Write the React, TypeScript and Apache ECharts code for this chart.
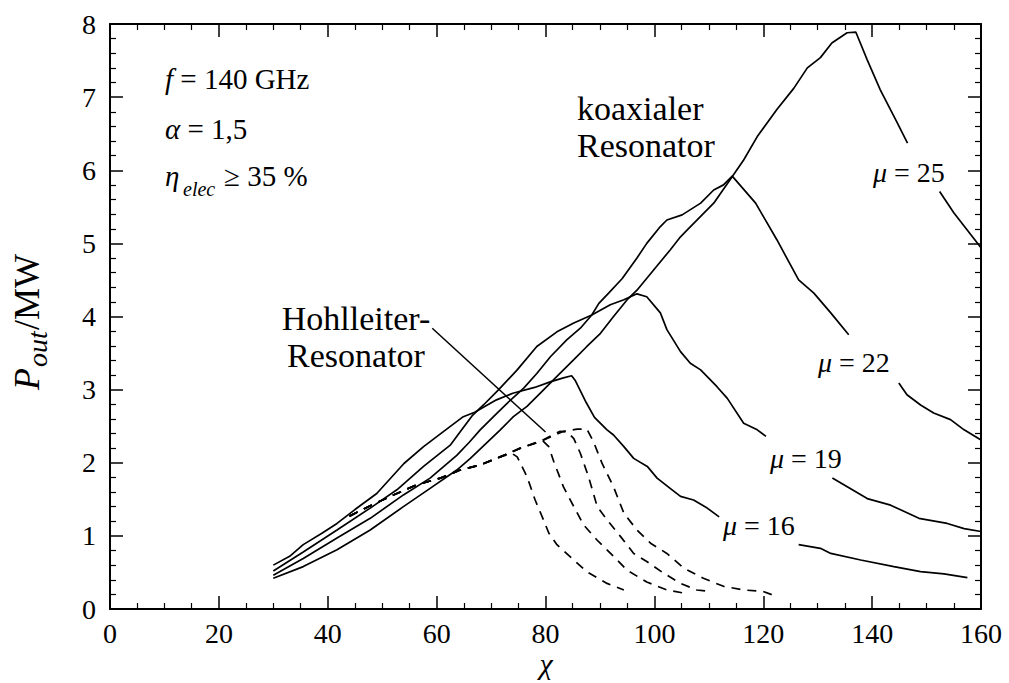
import React, { useEffect, useRef } from "react";
import * as echarts from "echarts";

// ---- Data (chi = χ, p = P_out in MW); null marks a gap left for a label ----
const chi16 = [30, 33, 35.5, 39, 41.7, 45, 49, 54, 57.6, 61.3, 64.9, 67, 71, 74, 78, 81, 83.3, 84.8, 85.5, 87.5, 89, 91.3, 92.5, 94.4, 96.2, 98.7, 100.5, 102.9, 104.8, 107.2, 109.7, 111.9, 119, 126.5, 130.5, 132.4, 137.9, 144, 148.9, 153.2, 157.5];
const p16 = [0.6, 0.72, 0.88, 1.04, 1.17, 1.36, 1.58, 1.99, 2.22, 2.43, 2.63, 2.69, 2.86, 2.95, 3.03, 3.11, 3.16, 3.19, 3.12, 2.82, 2.62, 2.45, 2.38, 2.22, 2.06, 1.95, 1.79, 1.65, 1.54, 1.49, 1.38, 1.26, null, 0.88, 0.83, 0.76, 0.67, 0.58, 0.51, 0.48, 0.43];

const chi19 = [30, 35.5, 41.7, 47.8, 52.7, 57.6, 62.5, 64.3, 66.5, 68.6, 71.4, 74.8, 78.4, 82.1, 85.2, 88.5, 91.9, 94.4, 96.8, 98.6, 101.1, 102.3, 104.8, 106.6, 108.5, 111.5, 113.4, 116.4, 118.9, 120.5, 126, 132.7, 139.1, 143.4, 148.6, 153.8, 156.9, 160];
const p19 = [0.52, 0.78, 1.08, 1.38, 1.63, 1.95, 2.24, 2.42, 2.64, 2.79, 3.0, 3.27, 3.59, 3.79, 3.91, 4.02, 4.16, 4.23, 4.31, 4.27, 4.05, 3.82, 3.52, 3.36, 3.27, 3.04, 2.88, 2.54, 2.45, 2.36, null, 1.79, 1.51, 1.42, 1.24, 1.17, 1.1, 1.06];

const chi22 = [30, 35.5, 41.7, 47.8, 53.9, 58.8, 63.7, 66, 68, 71.1, 72.9, 76, 78.4, 80.9, 83.9, 86.4, 88.5, 89.8, 91.6, 94.1, 96.8, 98.6, 101.1, 102.3, 105.1, 108.5, 110.9, 112.7, 114.3, 118.6, 122.5, 126.5, 129.3, 132.4, 135.7, 140, 144.9, 146.4, 148.9, 151.3, 154.4, 156.9, 160];
const p22 = [0.46, 0.69, 0.97, 1.24, 1.56, 1.79, 2.1, 2.28, 2.45, 2.68, 2.81, 3.02, 3.22, 3.45, 3.68, 3.84, 4.02, 4.18, 4.32, 4.52, 4.8, 5.0, 5.23, 5.32, 5.39, 5.55, 5.73, 5.8, 5.92, 5.55, 5.05, 4.5, 4.32, 4.05, 3.75, null, 3.09, 2.93, 2.79, 2.68, 2.59, 2.45, 2.31];

const chi25 = [30, 35.5, 41.7, 47.8, 53.9, 58.8, 63.7, 66.2, 71.7, 74.1, 76.6, 79, 82.1, 85.2, 87.6, 90.1, 92.5, 95, 96.8, 99.9, 102.9, 104.8, 106, 110.9, 114, 116.4, 118.9, 122.5, 125.6, 128.1, 130.5, 132.6, 135.4, 137, 139.1, 141.5, 144.6, 146.5, 149, 152.4, 155, 157.5, 160];
const p25 = [0.42, 0.58, 0.81, 1.08, 1.4, 1.65, 1.9, 2.06, 2.45, 2.63, 2.77, 2.95, 3.18, 3.41, 3.59, 3.77, 4.0, 4.23, 4.36, 4.64, 4.91, 5.09, 5.18, 5.55, 5.88, 6.14, 6.46, 6.83, 7.12, 7.4, 7.54, 7.74, 7.88, 7.89, 7.51, 7.1, 6.65, 6.37, null, 5.71, 5.42, 5.18, 4.94];

// Hohlleiter-Resonator (dashed)
const chiH1 = [44, 48, 52.7, 56.4, 60.7, 64.3, 68, 71.7, 73.8, 74.8, 76.6, 78.1, 79.4, 80.6, 82.1, 84.9, 87.6, 91.3, 94.4];
const pH1 = [1.27, 1.42, 1.58, 1.7, 1.79, 1.9, 1.97, 2.08, 2.13, 2.08, 1.81, 1.49, 1.26, 1.04, 0.88, 0.69, 0.51, 0.35, 0.26];
const chiH2 = [44, 48, 52.7, 56.4, 60.7, 64.3, 68, 71.7, 75.4, 78, 79.5, 80.6, 81.5, 83.3, 85.2, 87, 89.5, 92.5, 95, 98.6, 102.3, 106];
const pH2 = [1.27, 1.42, 1.58, 1.7, 1.79, 1.9, 1.97, 2.08, 2.2, 2.27, 2.3, 2.22, 2.02, 1.67, 1.4, 1.15, 0.94, 0.72, 0.53, 0.37, 0.26, 0.21];
const chiH3 = [44, 48, 52.7, 56.4, 60.7, 64.3, 68, 71.7, 75.4, 79, 81, 82.7, 84, 85.2, 86.4, 87.9, 89.5, 91.3, 93.8, 96.2, 98.6, 101.7, 104.8, 107.8, 110.3];
const pH3 = [1.27, 1.42, 1.58, 1.7, 1.79, 1.9, 1.97, 2.08, 2.2, 2.29, 2.37, 2.43, 2.42, 2.33, 2.13, 1.81, 1.4, 1.22, 0.99, 0.76, 0.65, 0.49, 0.35, 0.26, 0.24];
const chiH4 = [44, 48, 52.7, 56.4, 60.7, 64.3, 68, 71.7, 75.4, 79, 83.3, 85.8, 87.6, 88.8, 90.4, 92.5, 94.4, 96.8, 99.3, 102.3, 105.4, 109, 112.7, 116.4, 120, 122.5];
const pH4 = [1.27, 1.42, 1.58, 1.7, 1.79, 1.9, 1.97, 2.08, 2.2, 2.29, 2.43, 2.46, 2.46, 2.29, 1.99, 1.67, 1.31, 1.08, 0.9, 0.76, 0.56, 0.42, 0.31, 0.26, 0.24, 0.17];

// pointer line from the "Hohlleiter-Resonator" label
const pointerChi = [59.2, 80];
const pointerP = [3.84, 2.42];

const xTicks = { min: 0, max: 160, interval: 20 };
const yTicks = { min: 0, max: 8, interval: 1 };

const SERIF = "Liberation Serif";

function zip(xs: number[], ys: (number | null)[]) {
  return xs.map((x, i) => [x, ys[i] === null ? "-" : ys[i]]);
}

function solid(data: any[]) {
  return {
    type: "line",
    data,
    showSymbol: false,
    symbol: "none",
    silent: true,
    connectNulls: false,
    lineStyle: { color: "#000", width: 1.7 },
  };
}
function dashed(data: any[]) {
  return {
    type: "line",
    data,
    showSymbol: false,
    symbol: "none",
    silent: true,
    lineStyle: { color: "#000", width: 1.7, type: [9, 7] },
  };
}

function txt(x: number, y: number, text: string, size: number, extra: any = {}) {
  return {
    type: "text",
    x,
    y,
    silent: true,
    ...extra.el,
    style: {
      text,
      fontSize: size,
      fontFamily: SERIF,
      fill: "#000",
      align: "left",
      verticalAlign: "middle",
      rich: {
        i: { fontStyle: "italic", fontSize: size, fontFamily: SERIF, fill: "#000" },
      },
      ...extra.style,
    },
  };
}

export default function App() {
  const ref = useRef<HTMLDivElement>(null);
  useEffect(() => {
    if (!ref.current) return;
    const chart = echarts.init(ref.current, null, { renderer: "svg" });
    const axisCommon = {
      type: "value",
      axisLine: { show: true, onZero: false, lineStyle: { color: "#000", width: 2 } },
      axisTick: { show: true, inside: true, length: 13, lineStyle: { color: "#000", width: 1.5 } },
      minorTick: { show: true, splitNumber: 4, length: 6, lineStyle: { color: "#000", width: 1.2 } },
      splitLine: { show: false },
    };
    const labelStyle = { color: "#000", fontSize: 28, fontFamily: SERIF };
    const option: any = {
      animation: false,
      backgroundColor: "#fff",
      textStyle: { fontFamily: SERIF },
      grid: { left: 110, right: 28, top: 24, bottom: 74, containLabel: false },
      xAxis: [
        {
          ...axisCommon,
          ...xTicks,
          position: "bottom",
          axisLabel: { show: true, margin: 10, ...labelStyle },
        },
        {
          ...axisCommon,
          ...xTicks,
          position: "top",
          axisLabel: { show: false },
        },
      ],
      yAxis: [
        {
          ...axisCommon,
          ...yTicks,
          position: "left",
          minorTick: { ...axisCommon.minorTick, splitNumber: 5 },
          axisLabel: { show: true, margin: 14, ...labelStyle },
        },
        {
          ...axisCommon,
          ...yTicks,
          position: "right",
          minorTick: { ...axisCommon.minorTick, splitNumber: 5 },
          axisLabel: { show: false },
        },
      ],
      series: [
        solid(zip(chi16, p16)),
        solid(zip(chi19, p19)),
        solid(zip(chi22, p22)),
        solid(zip(chi25, p25)),
        dashed(zip(chiH1, pH1)),
        dashed(zip(chiH2, pH2)),
        dashed(zip(chiH3, pH3)),
        dashed(zip(chiH4, pH4)),
        {
          type: "line",
          data: zip(pointerChi, pointerP),
          showSymbol: false,
          symbol: "none",
          silent: true,
          lineStyle: { color: "#000", width: 1.5 },
        },
      ],
      graphic: [
        txt(165, 79, "{i|f} = 140 GHz", 29),
        txt(165, 129, "{i|α} = 1,5", 29),
        txt(165, 176, "{i|η}", 29),
        txt(183, 189, "{i|elec}", 20),
        txt(224, 176, "≥ 35 %", 29),
        txt(577, 108, "koaxialer", 34),
        txt(577, 145, "Resonator", 34),
        txt(356, 318, "Hohlleiter-", 34, { style: { align: "center" } }),
        txt(356, 355, "Resonator", 34, { style: { align: "center" } }),
        txt(873, 172, "{i|μ} = 25", 28),
        txt(818, 362, "{i|μ} = 22", 28),
        txt(770, 458, "{i|μ} = 19", 28),
        txt(723, 525, "{i|μ} = 16", 28),
        txt(546, 663, "{i|χ}", 30, { style: { align: "center" } }),
        // y-axis title, rotated
        txt(27, 390, "{i|P}", 36, { el: { rotation: Math.PI / 2 } }),
        txt(37, 367, "{i|out}", 28, { el: { rotation: Math.PI / 2 } }),
        txt(27, 330, "/MW", 36, { el: { rotation: Math.PI / 2 } }),
      ],
    };
    chart.setOption(option);
    return () => chart.dispose();
  }, []);
  return (
    <div
      ref={ref}
      style={{ position: "absolute", left: 0, top: 0, width: 1009, height: 683, background: "#fff" }}
    />
  );
}
